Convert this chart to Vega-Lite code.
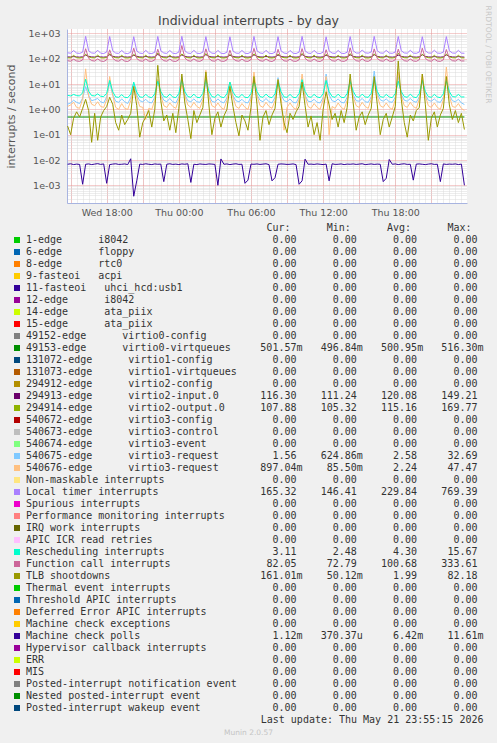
{
"$schema": "https://vega.github.io/schema/vega-lite/v6.json",
"width": 400, "height": 174,
"autosize": {"type": "none"},
"padding": {"left": 67, "top": 29, "right": 30, "bottom": 540},
"background": "#f0f0f0",
"title": {"text": "Individual interrupts - by day", "anchor": "middle", "dx": -18.5, "dy": 24, "offset": 2, "fontSize": 12.5, "font": "DejaVu Sans", "fontWeight": "normal", "color": "#444"},
"config": {"view": {"fill": "#ffffff", "stroke": null}, "axis": {"labelFont": "DejaVu Sans", "titleFont": "DejaVu Sans"}},
"datasets": {
"v0": [
{"t":"2026-05-20T14:45","k":"V","v":0.5},
{"t":"2026-05-21T08:00","k":"V","v":0.502},
{"t":"2026-05-21T23:45","k":"V","v":0.5016}
],
"d": [
{"t":"2026-05-20T14:45","L":172,"F":84,"R":3.6,"B":1.6,"O":1.3,"T":0.22,"M":0.0068,"I":118,"P":109},
{"t":"2026-05-20T15:00","L":166,"F":80,"R":3.4,"B":1.8,"O":1.5,"T":0.1,"M":0.0071,"I":117,"P":108},
{"t":"2026-05-20T15:15","L":212,"F":96,"R":3.9,"B":2.3,"O":1.9,"T":0.45,"M":0.0066,"I":122,"P":136},
{"t":"2026-05-20T15:30","L":168,"F":82,"R":3.5,"B":1.9,"O":1.2,"T":0.8,"M":0.0069,"I":118,"P":110},
{"t":"2026-05-20T15:45","L":163,"F":79,"R":3.4,"B":1.7,"O":1.1,"T":0.5,"M":0.0067,"I":116,"P":107},
{"t":"2026-05-20T16:00","L":182,"F":90,"R":4.5,"B":2.8,"O":2.6,"T":1.1,"M":0.0011,"I":119,"P":112},
{"t":"2026-05-20T16:15","L":770,"F":250,"R":15.5,"B":8,"O":40,"T":2.5,"M":0.0068,"I":140,"P":150},
{"t":"2026-05-20T16:30","L":205,"F":104,"R":5.2,"B":3.5,"O":3.2,"T":0.9,"M":0.007,"I":124,"P":120},
{"t":"2026-05-20T16:45","L":170,"F":85,"R":3.5,"B":2.2,"O":1.6,"T":0.05,"M":0.0066,"I":118,"P":110},
{"t":"2026-05-20T17:00","L":165,"F":81,"R":3.4,"B":2.4,"O":1.4,"T":0.7,"M":0.0069,"I":117,"P":108},
{"t":"2026-05-20T17:15","L":218,"F":99,"R":4.1,"B":2.7,"O":2.0,"T":0.06,"M":0.0072,"I":123,"P":139},
{"t":"2026-05-20T17:30","L":166,"F":82,"R":3.3,"B":2.0,"O":1.3,"T":0.5,"M":0.0067,"I":118,"P":109},
{"t":"2026-05-20T17:45","L":161,"F":78,"R":3.2,"B":1.8,"O":1.2,"T":0.9,"M":0.007,"I":116,"P":107},
{"t":"2026-05-20T18:00","L":184,"F":91,"R":4.3,"B":3.1,"O":2.4,"T":1.3,"M":0.0012,"I":119,"P":113},
{"t":"2026-05-20T18:15","L":755,"F":225,"R":14,"B":12,"O":20,"T":3,"M":0.0066,"I":145,"P":158},
{"t":"2026-05-20T18:30","L":208,"F":106,"R":5,"B":3.8,"O":3.6,"T":1.6,"M":0.0069,"I":125,"P":121},
{"t":"2026-05-20T18:45","L":168,"F":84,"R":3.1,"B":2.1,"O":1.2,"T":0.3,"M":0.0071,"I":118,"P":110},
{"t":"2026-05-20T19:00","L":163,"F":80,"R":3.0,"B":1.9,"O":1.0,"T":0.15,"M":0.0067,"I":117,"P":108},
{"t":"2026-05-20T19:15","L":214,"F":97,"R":3.8,"B":2.6,"O":1.7,"T":0.6,"M":0.0068,"I":122,"P":137},
{"t":"2026-05-20T19:30","L":166,"F":81,"R":3.0,"B":2.0,"O":1.1,"T":0.25,"M":0.007,"I":118,"P":109},
{"t":"2026-05-20T19:45","L":160,"F":78,"R":2.9,"B":1.7,"O":1.0,"T":0.4,"M":0.0066,"I":116,"P":107},
{"t":"2026-05-20T20:00","L":181,"F":92,"R":4.0,"B":2.9,"O":2.2,"T":0.7,"M":0.0112,"I":119,"P":112},
{"t":"2026-05-20T20:15","L":745,"F":262,"R":12,"B":10,"O":8,"T":8,"M":0.00037,"I":138,"P":148},
{"t":"2026-05-20T20:30","L":204,"F":103,"R":4.8,"B":3.6,"O":3,"T":1.4,"M":0.0015,"I":124,"P":120},
{"t":"2026-05-20T20:45","L":167,"F":83,"R":3.1,"B":2.2,"O":1.3,"T":0.08,"M":0.0069,"I":118,"P":110},
{"t":"2026-05-20T21:00","L":162,"F":80,"R":3.0,"B":2.0,"O":1.2,"T":0.3,"M":0.0067,"I":117,"P":108},
{"t":"2026-05-20T21:15","L":216,"F":98,"R":3.9,"B":2.5,"O":0.4,"T":0.5,"M":0.0071,"I":123,"P":138},
{"t":"2026-05-20T21:30","L":165,"F":81,"R":3.1,"B":1.9,"O":1.1,"T":0.9,"M":0.0068,"I":118,"P":109},
{"t":"2026-05-20T21:45","L":161,"F":79,"R":2.9,"B":1.8,"O":1.0,"T":0.2,"M":0.0066,"I":116,"P":107},
{"t":"2026-05-20T22:00","L":180,"F":90,"R":4.1,"B":3.0,"O":2.3,"T":1.0,"M":0.007,"I":119,"P":112},
{"t":"2026-05-20T22:15","L":760,"F":238,"R":13,"B":15,"O":15,"T":55,"M":0.0068,"I":149,"P":170},
{"t":"2026-05-20T22:30","L":206,"F":105,"R":5.1,"B":4,"O":3.5,"T":2.2,"M":0.0069,"I":125,"P":122},
{"t":"2026-05-20T22:45","L":169,"F":84,"R":3.2,"B":2.3,"O":1.4,"T":0.35,"M":0.0014,"I":118,"P":110},
{"t":"2026-05-20T23:00","L":163,"F":80,"R":3.0,"B":2.0,"O":1.2,"T":0.6,"M":0.0068,"I":117,"P":108},
{"t":"2026-05-20T23:15","L":213,"F":97,"R":4.0,"B":2.7,"O":1.8,"T":0.15,"M":0.0071,"I":122,"P":139},
{"t":"2026-05-20T23:30","L":166,"F":81,"R":3.1,"B":2.0,"O":1.3,"T":0.7,"M":0.0067,"I":118,"P":109},
{"t":"2026-05-20T23:45","L":160,"F":78,"R":2.9,"B":1.8,"O":1.1,"T":0.12,"M":0.0069,"I":116,"P":107},
{"t":"2026-05-21T00:00","L":183,"F":92,"R":4.2,"B":3.1,"O":2.5,"T":1.1,"M":0.0066,"I":119,"P":112},
{"t":"2026-05-21T00:15","L":769,"F":334,"R":14.5,"B":20,"O":10,"T":25,"M":0.007,"I":142,"P":155},
{"t":"2026-05-21T00:30","L":207,"F":108,"R":5,"B":3.9,"O":3.4,"T":1.8,"M":0.0068,"I":124,"P":121},
{"t":"2026-05-21T00:45","L":168,"F":85,"R":3.2,"B":2.2,"O":1.5,"T":0.4,"M":0.0071,"I":118,"P":110},
{"t":"2026-05-21T01:00","L":162,"F":80,"R":3.0,"B":2.0,"O":1.2,"T":0.07,"M":0.0013,"I":117,"P":108},
{"t":"2026-05-21T01:15","L":217,"F":99,"R":4.0,"B":2.6,"O":1.9,"T":0.9,"M":0.0068,"I":123,"P":137},
{"t":"2026-05-21T01:30","L":165,"F":82,"R":3.0,"B":2.0,"O":1.3,"T":0.3,"M":0.0066,"I":118,"P":109},
{"t":"2026-05-21T01:45","L":161,"F":79,"R":2.9,"B":1.9,"O":1.1,"T":0.6,"M":0.007,"I":116,"P":107},
{"t":"2026-05-21T02:00","L":182,"F":91,"R":4.3,"B":3.0,"O":2.4,"T":1.2,"M":0.0068,"I":119,"P":112},
{"t":"2026-05-21T02:15","L":750,"F":248,"R":15.7,"B":12,"O":35,"T":30,"M":0.0067,"I":146,"P":160},
{"t":"2026-05-21T02:30","L":205,"F":104,"R":5.2,"B":3.7,"O":3.3,"T":1.5,"M":0.007,"I":124,"P":120},
{"t":"2026-05-21T02:45","L":167,"F":83,"R":3.2,"B":2.1,"O":1.4,"T":0.1,"M":0.0069,"I":118,"P":110},
{"t":"2026-05-21T03:00","L":163,"F":80,"R":3.0,"B":1.9,"O":1.2,"T":0.45,"M":0.0067,"I":117,"P":108},
{"t":"2026-05-21T03:15","L":215,"F":98,"R":3.9,"B":2.6,"O":1.8,"T":0.8,"M":0.001,"I":122,"P":138},
{"t":"2026-05-21T03:30","L":166,"F":81,"R":3.1,"B":2.0,"O":1.2,"T":0.2,"M":0.011,"I":118,"P":109},
{"t":"2026-05-21T03:45","L":160,"F":79,"R":2.9,"B":1.8,"O":1.0,"T":0.55,"M":0.0068,"I":116,"P":107},
{"t":"2026-05-21T04:00","L":181,"F":90,"R":4.1,"B":2.9,"O":2.3,"T":1.0,"M":0.007,"I":119,"P":112},
{"t":"2026-05-21T04:15","L":740,"F":218,"R":12,"B":10,"O":12,"T":8,"M":0.0066,"I":139,"P":147},
{"t":"2026-05-21T04:30","L":203,"F":102,"R":4.9,"B":3.5,"O":3.1,"T":1.3,"M":0.0069,"I":123,"P":119},
{"t":"2026-05-21T04:45","L":168,"F":84,"R":3.2,"B":2.2,"O":1.3,"T":0.3,"M":0.0071,"I":118,"P":110},
{"t":"2026-05-21T05:00","L":164,"F":80,"R":3.0,"B":2.0,"O":1.1,"T":0.09,"M":0.0067,"I":117,"P":108},
{"t":"2026-05-21T05:15","L":214,"F":97,"R":3.9,"B":2.5,"O":1.7,"T":0.6,"M":0.0068,"I":122,"P":137},
{"t":"2026-05-21T05:30","L":165,"F":81,"R":3.0,"B":1.9,"O":1.2,"T":0.35,"M":0.0012,"I":118,"P":109},
{"t":"2026-05-21T05:45","L":161,"F":79,"R":2.9,"B":1.8,"O":1.0,"T":0.15,"M":0.0016,"I":116,"P":107},
{"t":"2026-05-21T06:00","L":184,"F":92,"R":4.2,"B":3.1,"O":2.6,"T":1.2,"M":0.0069,"I":119,"P":113},
{"t":"2026-05-21T06:15","L":762,"F":258,"R":14,"B":15,"O":30,"T":20,"M":0.0068,"I":144,"P":156},
{"t":"2026-05-21T06:30","L":207,"F":105,"R":5.1,"B":3.8,"O":3.5,"T":1.6,"M":0.007,"I":124,"P":121},
{"t":"2026-05-21T06:45","L":169,"F":84,"R":3.2,"B":2.3,"O":1.4,"T":0.06,"M":0.0067,"I":118,"P":110},
{"t":"2026-05-21T07:00","L":163,"F":80,"R":3.0,"B":2.0,"O":1.2,"T":0.5,"M":0.0069,"I":117,"P":108},
{"t":"2026-05-21T07:15","L":216,"F":98,"R":4.0,"B":2.7,"O":1.9,"T":0.9,"M":0.0071,"I":123,"P":139},
{"t":"2026-05-21T07:30","L":165,"F":82,"R":3.1,"B":2.0,"O":1.3,"T":0.25,"M":0.0066,"I":118,"P":109},
{"t":"2026-05-21T07:45","L":160,"F":78,"R":2.9,"B":1.8,"O":1.1,"T":0.6,"M":0.0015,"I":116,"P":107},
{"t":"2026-05-21T08:00","L":180,"F":90,"R":4.1,"B":3.0,"O":2.2,"T":1.1,"M":0.002,"I":119,"P":112},
{"t":"2026-05-21T08:15","L":748,"F":236,"R":13,"B":18,"O":15,"T":15,"M":0.0068,"I":141,"P":152},
{"t":"2026-05-21T08:30","L":205,"F":104,"R":5,"B":3.9,"O":3.3,"T":1.7,"M":0.007,"I":124,"P":120},
{"t":"2026-05-21T08:45","L":168,"F":83,"R":3.1,"B":2.2,"O":0.15,"T":0.3,"M":0.0069,"I":118,"P":110},
{"t":"2026-05-21T09:00","L":162,"F":80,"R":3.0,"B":2.0,"O":1.2,"T":0.12,"M":0.0067,"I":117,"P":108},
{"t":"2026-05-21T09:15","L":213,"F":97,"R":3.9,"B":2.6,"O":1.8,"T":0.7,"M":0.0068,"I":122,"P":137},
{"t":"2026-05-21T09:30","L":166,"F":81,"R":3.0,"B":1.9,"O":1.2,"T":0.4,"M":0.007,"I":118,"P":109},
{"t":"2026-05-21T09:45","L":161,"F":79,"R":2.9,"B":1.8,"O":1.0,"T":0.8,"M":0.0066,"I":116,"P":107},
{"t":"2026-05-21T10:00","L":183,"F":91,"R":4.2,"B":3.0,"O":2.5,"T":1.3,"M":0.0011,"I":119,"P":112},
{"t":"2026-05-21T10:15","L":766,"F":252,"R":15,"B":12,"O":25,"T":12,"M":0.0015,"I":147,"P":162},
{"t":"2026-05-21T10:30","L":206,"F":105,"R":5.1,"B":3.6,"O":3.4,"T":1.4,"M":0.0108,"I":124,"P":121},
{"t":"2026-05-21T10:45","L":167,"F":83,"R":3.2,"B":2.1,"O":1.3,"T":0.2,"M":0.0068,"I":118,"P":110},
{"t":"2026-05-21T11:00","L":163,"F":80,"R":3.0,"B":2.0,"O":1.1,"T":0.55,"M":0.0069,"I":117,"P":108},
{"t":"2026-05-21T11:15","L":215,"F":98,"R":3.9,"B":2.5,"O":1.7,"T":0.1,"M":0.0067,"I":122,"P":138},
{"t":"2026-05-21T11:30","L":165,"F":81,"R":3.1,"B":1.9,"O":1.2,"T":0.3,"M":0.007,"I":118,"P":109},
{"t":"2026-05-21T11:45","L":160,"F":78,"R":2.9,"B":1.8,"O":1.0,"T":0.06,"M":0.0068,"I":116,"P":107},
{"t":"2026-05-21T12:00","L":182,"F":91,"R":4.1,"B":2.9,"O":2.4,"T":1.0,"M":0.0066,"I":119,"P":112},
{"t":"2026-05-21T12:15","L":738,"F":228,"R":14,"B":25,"O":20,"T":5,"M":0.0069,"I":138,"P":149},
{"t":"2026-05-21T12:30","L":204,"F":103,"R":5.0,"B":3.7,"O":0.1,"T":1.5,"M":0.0015,"I":123,"P":120},
{"t":"2026-05-21T12:45","L":168,"F":84,"R":3.2,"B":2.2,"O":1.3,"T":0.4,"M":0.0071,"I":118,"P":110},
{"t":"2026-05-21T13:00","L":163,"F":80,"R":3.0,"B":2.0,"O":1.1,"T":0.7,"M":0.0067,"I":117,"P":108},
{"t":"2026-05-21T13:15","L":214,"F":97,"R":4.0,"B":2.6,"O":1.8,"T":0.2,"M":0.0068,"I":122,"P":137},
{"t":"2026-05-21T13:30","L":166,"F":81,"R":3.0,"B":1.9,"O":1.2,"T":0.9,"M":0.007,"I":118,"P":109},
{"t":"2026-05-21T13:45","L":161,"F":79,"R":2.9,"B":1.8,"O":1.0,"T":0.3,"M":0.0066,"I":116,"P":107},
{"t":"2026-05-21T14:00","L":181,"F":90,"R":4.2,"B":3.0,"O":2.3,"T":1.2,"M":0.0069,"I":119,"P":112},
{"t":"2026-05-21T14:15","L":752,"F":270,"R":12.5,"B":15,"O":10,"T":25,"M":0.0068,"I":143,"P":157},
{"t":"2026-05-21T14:30","L":207,"F":106,"R":5.2,"B":3.8,"O":3.2,"T":1.8,"M":0.007,"I":124,"P":121},
{"t":"2026-05-21T14:45","L":169,"F":84,"R":3.2,"B":2.2,"O":1.4,"T":0.15,"M":0.0067,"I":118,"P":110},
{"t":"2026-05-21T15:00","L":168,"F":80,"R":3.0,"B":2.1,"O":1.2,"T":0.5,"M":0.0069,"I":117,"P":108},
{"t":"2026-05-21T15:15","L":222,"F":99,"R":4.0,"B":2.7,"O":1.9,"T":0.8,"M":0.0071,"I":123,"P":139},
{"t":"2026-05-21T15:30","L":172,"F":82,"R":3.1,"B":2.0,"O":1.3,"T":0.25,"M":0.0066,"I":118,"P":109},
{"t":"2026-05-21T15:45","L":166,"F":79,"R":3.0,"B":1.9,"O":1.1,"T":0.6,"M":0.0068,"I":116,"P":107},
{"t":"2026-05-21T16:00","L":185,"F":92,"R":4.3,"B":3.1,"O":2.5,"T":1.1,"M":0.007,"I":119,"P":113},
{"t":"2026-05-21T16:15","L":764,"F":246,"R":15,"B":32.7,"O":15,"T":20,"M":0.0067,"I":145,"P":154},
{"t":"2026-05-21T16:30","L":208,"F":104,"R":5.1,"B":4.2,"O":3.4,"T":1.6,"M":0.0069,"I":124,"P":121},
{"t":"2026-05-21T16:45","L":170,"F":84,"R":3.2,"B":2.4,"O":1.4,"T":0.1,"M":0.0068,"I":118,"P":110},
{"t":"2026-05-21T17:00","L":166,"F":80,"R":3.0,"B":2.1,"O":1.2,"T":0.4,"M":0.0014,"I":117,"P":108},
{"t":"2026-05-21T17:15","L":216,"F":98,"R":3.9,"B":2.6,"O":1.8,"T":0.7,"M":0.0019,"I":122,"P":138},
{"t":"2026-05-21T17:30","L":168,"F":81,"R":3.1,"B":2.0,"O":1.2,"T":0.2,"M":0.0105,"I":118,"P":109},
{"t":"2026-05-21T17:45","L":164,"F":79,"R":2.9,"B":1.9,"O":1.0,"T":0.5,"M":0.0068,"I":116,"P":107},
{"t":"2026-05-21T18:00","L":184,"F":91,"R":4.2,"B":3.0,"O":2.4,"T":1.3,"M":0.007,"I":119,"P":112},
{"t":"2026-05-21T18:15","L":758,"F":240,"R":13,"B":20,"O":30,"T":82,"M":0.0066,"I":140,"P":165},
{"t":"2026-05-21T18:30","L":207,"F":105,"R":5.0,"B":3.9,"O":3.3,"T":2.5,"M":0.0069,"I":124,"P":122},
{"t":"2026-05-21T18:45","L":170,"F":84,"R":3.2,"B":2.3,"O":1.4,"T":0.3,"M":0.0071,"I":118,"P":110},
{"t":"2026-05-21T19:00","L":166,"F":80,"R":3.0,"B":2.1,"O":1.2,"T":0.08,"M":0.0067,"I":117,"P":108},
{"t":"2026-05-21T19:15","L":217,"F":98,"R":4.0,"B":2.7,"O":1.9,"T":0.6,"M":0.0068,"I":123,"P":138},
{"t":"2026-05-21T19:30","L":168,"F":82,"R":3.1,"B":2.1,"O":1.3,"T":0.35,"M":0.0016,"I":118,"P":109},
{"t":"2026-05-21T19:45","L":164,"F":79,"R":2.9,"B":1.9,"O":1.1,"T":0.9,"M":0.0069,"I":116,"P":107},
{"t":"2026-05-21T20:00","L":185,"F":92,"R":4.2,"B":3.1,"O":2.6,"T":1.2,"M":0.007,"I":119,"P":113},
{"t":"2026-05-21T20:15","L":744,"F":262,"R":14,"B":15,"O":25,"T":25,"M":0.0068,"I":144,"P":151},
{"t":"2026-05-21T20:30","L":206,"F":105,"R":5.1,"B":3.8,"O":3.5,"T":1.6,"M":0.0066,"I":124,"P":121},
{"t":"2026-05-21T20:45","L":170,"F":84,"R":3.2,"B":2.3,"O":1.4,"T":0.06,"M":0.0069,"I":118,"P":110},
{"t":"2026-05-21T21:00","L":167,"F":80,"R":3.0,"B":2.1,"O":1.2,"T":0.45,"M":0.0071,"I":117,"P":108},
{"t":"2026-05-21T21:15","L":218,"F":98,"R":3.9,"B":2.6,"O":1.8,"T":0.8,"M":0.0067,"I":122,"P":137},
{"t":"2026-05-21T21:30","L":168,"F":81,"R":3.1,"B":2.0,"O":1.2,"T":0.2,"M":0.0068,"I":118,"P":109},
{"t":"2026-05-21T21:45","L":164,"F":79,"R":2.9,"B":1.9,"O":1.0,"T":0.6,"M":0.0014,"I":116,"P":107},
{"t":"2026-05-21T22:00","L":183,"F":91,"R":4.1,"B":3.0,"O":2.4,"T":1.1,"M":0.007,"I":119,"P":112},
{"t":"2026-05-21T22:15","L":750,"F":232,"R":13,"B":18,"O":47,"T":20,"M":0.0067,"I":142,"P":153},
{"t":"2026-05-21T22:30","L":206,"F":104,"R":5.0,"B":3.7,"O":3.3,"T":1.5,"M":0.0069,"I":124,"P":120},
{"t":"2026-05-21T22:45","L":169,"F":84,"R":3.2,"B":2.2,"O":1.3,"T":0.4,"M":0.0068,"I":118,"P":110},
{"t":"2026-05-21T23:00","L":166,"F":81,"R":3.1,"B":2.0,"O":1.2,"T":0.9,"M":0.007,"I":117,"P":108},
{"t":"2026-05-21T23:15","L":216,"F":97,"R":3.9,"B":2.5,"O":1.7,"T":0.3,"M":0.0066,"I":122,"P":137},
{"t":"2026-05-21T23:30","L":167,"F":82,"R":3.1,"B":1.8,"O":1.1,"T":0.7,"M":0.0069,"I":118,"P":109},
{"t":"2026-05-21T23:45","L":165,"F":82,"R":3.1,"B":1.56,"O":0.9,"T":0.16,"M":0.001,"I":116,"P":108}
],
"leg": [
{"k":"hdr","n":"","c":"Cur:\u00a0\u00a0\u200b","m":"Min:\u00a0\u00a0\u200b","a":"Avg:\u00a0\u00a0\u200b","x":"Max:\u00a0\u00a0\u200b"},
{"k":"e1","n":"1-edge\u00a0\u00a0\u00a0\u00a0\u00a0\u00a0i8042","c":"0.00\u00a0\u200b","m":"0.00\u00a0\u200b","a":"0.00\u00a0\u200b","x":"0.00\u00a0\u200b"},
{"k":"e6","n":"6-edge\u00a0\u00a0\u00a0\u00a0\u00a0\u00a0floppy","c":"0.00\u00a0\u200b","m":"0.00\u00a0\u200b","a":"0.00\u00a0\u200b","x":"0.00\u00a0\u200b"},
{"k":"e8","n":"8-edge\u00a0\u00a0\u00a0\u00a0\u00a0\u00a0rtc0","c":"0.00\u00a0\u200b","m":"0.00\u00a0\u200b","a":"0.00\u00a0\u200b","x":"0.00\u00a0\u200b"},
{"k":"e9","n":"9-fasteoi\u00a0\u00a0\u00a0acpi","c":"0.00\u00a0\u200b","m":"0.00\u00a0\u200b","a":"0.00\u00a0\u200b","x":"0.00\u00a0\u200b"},
{"k":"e11","n":"11-fasteoi\u00a0\u00a0\u00a0uhci_hcd:usb1","c":"0.00\u00a0\u200b","m":"0.00\u00a0\u200b","a":"0.00\u00a0\u200b","x":"0.00\u00a0\u200b"},
{"k":"e12","n":"12-edge\u00a0\u00a0\u00a0\u00a0\u00a0\u00a0i8042","c":"0.00\u00a0\u200b","m":"0.00\u00a0\u200b","a":"0.00\u00a0\u200b","x":"0.00\u00a0\u200b"},
{"k":"e14","n":"14-edge\u00a0\u00a0\u00a0\u00a0\u00a0\u00a0ata_piix","c":"0.00\u00a0\u200b","m":"0.00\u00a0\u200b","a":"0.00\u00a0\u200b","x":"0.00\u00a0\u200b"},
{"k":"e15","n":"15-edge\u00a0\u00a0\u00a0\u00a0\u00a0\u00a0ata_piix","c":"0.00\u00a0\u200b","m":"0.00\u00a0\u200b","a":"0.00\u00a0\u200b","x":"0.00\u00a0\u200b"},
{"k":"c0","n":"49152-edge\u00a0\u00a0\u00a0\u00a0\u00a0\u00a0virtio0-config","c":"0.00\u00a0\u200b","m":"0.00\u00a0\u200b","a":"0.00\u00a0\u200b","x":"0.00\u00a0\u200b"},
{"k":"V","n":"49153-edge\u00a0\u00a0\u00a0\u00a0\u00a0\u00a0virtio0-virtqueues","c":"501.57m","m":"496.84m","a":"500.95m","x":"516.30m"},
{"k":"c1","n":"131072-edge\u00a0\u00a0\u00a0\u00a0\u00a0\u00a0virtio1-config","c":"0.00\u00a0\u200b","m":"0.00\u00a0\u200b","a":"0.00\u00a0\u200b","x":"0.00\u00a0\u200b"},
{"k":"q1","n":"131073-edge\u00a0\u00a0\u00a0\u00a0\u00a0\u00a0virtio1-virtqueues","c":"0.00\u00a0\u200b","m":"0.00\u00a0\u200b","a":"0.00\u00a0\u200b","x":"0.00\u00a0\u200b"},
{"k":"c2","n":"294912-edge\u00a0\u00a0\u00a0\u00a0\u00a0\u00a0virtio2-config","c":"0.00\u00a0\u200b","m":"0.00\u00a0\u200b","a":"0.00\u00a0\u200b","x":"0.00\u00a0\u200b"},
{"k":"I","n":"294913-edge\u00a0\u00a0\u00a0\u00a0\u00a0\u00a0virtio2-input.0","c":"116.30\u00a0\u200b","m":"111.24\u00a0\u200b","a":"120.08\u00a0\u200b","x":"149.21\u00a0\u200b"},
{"k":"P","n":"294914-edge\u00a0\u00a0\u00a0\u00a0\u00a0\u00a0virtio2-output.0","c":"107.88\u00a0\u200b","m":"105.32\u00a0\u200b","a":"115.16\u00a0\u200b","x":"169.77\u00a0\u200b"},
{"k":"c3","n":"540672-edge\u00a0\u00a0\u00a0\u00a0\u00a0\u00a0virtio3-config","c":"0.00\u00a0\u200b","m":"0.00\u00a0\u200b","a":"0.00\u00a0\u200b","x":"0.00\u00a0\u200b"},
{"k":"k3","n":"540673-edge\u00a0\u00a0\u00a0\u00a0\u00a0\u00a0virtio3-control","c":"0.00\u00a0\u200b","m":"0.00\u00a0\u200b","a":"0.00\u00a0\u200b","x":"0.00\u00a0\u200b"},
{"k":"v3","n":"540674-edge\u00a0\u00a0\u00a0\u00a0\u00a0\u00a0virtio3-event","c":"0.00\u00a0\u200b","m":"0.00\u00a0\u200b","a":"0.00\u00a0\u200b","x":"0.00\u00a0\u200b"},
{"k":"B","n":"540675-edge\u00a0\u00a0\u00a0\u00a0\u00a0\u00a0virtio3-request","c":"1.56\u00a0\u200b","m":"624.86m","a":"2.58\u00a0\u200b","x":"32.69\u00a0\u200b"},
{"k":"O","n":"540676-edge\u00a0\u00a0\u00a0\u00a0\u00a0\u00a0virtio3-request","c":"897.04m","m":"85.50m","a":"2.24\u00a0\u200b","x":"47.47\u00a0\u200b"},
{"k":"NMI","n":"Non-maskable interrupts","c":"0.00\u00a0\u200b","m":"0.00\u00a0\u200b","a":"0.00\u00a0\u200b","x":"0.00\u00a0\u200b"},
{"k":"L","n":"Local timer interrupts","c":"165.32\u00a0\u200b","m":"146.41\u00a0\u200b","a":"229.84\u00a0\u200b","x":"769.39\u00a0\u200b"},
{"k":"SPU","n":"Spurious interrupts","c":"0.00\u00a0\u200b","m":"0.00\u00a0\u200b","a":"0.00\u00a0\u200b","x":"0.00\u00a0\u200b"},
{"k":"PMI","n":"Performance monitoring interrupts","c":"0.00\u00a0\u200b","m":"0.00\u00a0\u200b","a":"0.00\u00a0\u200b","x":"0.00\u00a0\u200b"},
{"k":"IWI","n":"IRQ work interrupts","c":"0.00\u00a0\u200b","m":"0.00\u00a0\u200b","a":"0.00\u00a0\u200b","x":"0.00\u00a0\u200b"},
{"k":"RTR","n":"APIC ICR read retries","c":"0.00\u00a0\u200b","m":"0.00\u00a0\u200b","a":"0.00\u00a0\u200b","x":"0.00\u00a0\u200b"},
{"k":"R","n":"Rescheduling interrupts","c":"3.11\u00a0\u200b","m":"2.48\u00a0\u200b","a":"4.30\u00a0\u200b","x":"15.67\u00a0\u200b"},
{"k":"F","n":"Function call interrupts","c":"82.05\u00a0\u200b","m":"72.79\u00a0\u200b","a":"100.68\u00a0\u200b","x":"333.61\u00a0\u200b"},
{"k":"T","n":"TLB shootdowns","c":"161.01m","m":"50.12m","a":"1.99\u00a0\u200b","x":"82.18\u00a0\u200b"},
{"k":"THR","n":"Thermal event interrupts","c":"0.00\u00a0\u200b","m":"0.00\u00a0\u200b","a":"0.00\u00a0\u200b","x":"0.00\u00a0\u200b"},
{"k":"TRM","n":"Threshold APIC interrupts","c":"0.00\u00a0\u200b","m":"0.00\u00a0\u200b","a":"0.00\u00a0\u200b","x":"0.00\u00a0\u200b"},
{"k":"DFR","n":"Deferred Error APIC interrupts","c":"0.00\u00a0\u200b","m":"0.00\u00a0\u200b","a":"0.00\u00a0\u200b","x":"0.00\u00a0\u200b"},
{"k":"MCE","n":"Machine check exceptions","c":"0.00\u00a0\u200b","m":"0.00\u00a0\u200b","a":"0.00\u00a0\u200b","x":"0.00\u00a0\u200b"},
{"k":"M","n":"Machine check polls","c":"1.12m","m":"370.37u","a":"6.42m","x":"11.61m"},
{"k":"HYP","n":"Hypervisor callback interrupts","c":"0.00\u00a0\u200b","m":"0.00\u00a0\u200b","a":"0.00\u00a0\u200b","x":"0.00\u00a0\u200b"},
{"k":"ERR","n":"ERR","c":"0.00\u00a0\u200b","m":"0.00\u00a0\u200b","a":"0.00\u00a0\u200b","x":"0.00\u00a0\u200b"},
{"k":"MIS","n":"MIS","c":"0.00\u00a0\u200b","m":"0.00\u00a0\u200b","a":"0.00\u00a0\u200b","x":"0.00\u00a0\u200b"},
{"k":"PIN","n":"Posted-interrupt notification event","c":"0.00\u00a0\u200b","m":"0.00\u00a0\u200b","a":"0.00\u00a0\u200b","x":"0.00\u00a0\u200b"},
{"k":"NPI","n":"Nested posted-interrupt event","c":"0.00\u00a0\u200b","m":"0.00\u00a0\u200b","a":"0.00\u00a0\u200b","x":"0.00\u00a0\u200b"},
{"k":"PIW","n":"Posted-interrupt wakeup event","c":"0.00\u00a0\u200b","m":"0.00\u00a0\u200b","a":"0.00\u00a0\u200b","x":"0.00\u00a0\u200b"},
{"k":"upd","n":"","c":"","m":"","a":"","x":"Last update: Thu May 21 23:55:15 2026"}
]
},
"layer": [
{
"layer": [
{
"data": {"name": "v0"},
"mark": {"type": "line", "strokeWidth": 1},
"encoding": {
"x": {"field": "t", "type": "temporal", "scale": {"domain": ["2026-05-20T14:42", "2026-05-21T23:58"], "nice": false},
"axis": {"orient": "bottom", "grid": true, "gridColor": "#dadada", "gridDash": [1, 1], "tickCount": 66, "labels": false, "ticks": false, "domain": false, "title": null}},
"y": {"field": "v", "type": "quantitative", "scale": {"type": "log", "domain": [0.0002, 1500], "nice": false},
"axis": {"orient": "left", "grid": true, "gridColor": "#dadada", "gridDash": [1, 1], "values": [0.0002,0.0003,0.0004,0.0005,0.0006,0.0007,0.0008,0.0009,0.002,0.003,0.004,0.005,0.006,0.007,0.008,0.009,0.02,0.03,0.04,0.05,0.06,0.07,0.08,0.09,0.2,0.3,0.4,0.5,0.6,0.7,0.8,0.9,2,3,4,5,6,7,8,9,20,30,40,50,60,70,80,90,200,300,400,500,600,700,800,900], "labels": false, "ticks": false, "domain": false, "title": null}},
"color": {"field": "k", "type": "nominal", "legend": null,
"scale": {"domain": ["e1","e6","e8","e9","e11","e12","e14","e15","c0","V","c1","q1","c2","I","P","c3","k3","v3","B","O","NMI","L","SPU","PMI","IWI","RTR","R","F","T","THR","TRM","DFR","MCE","M","HYP","ERR","MIS","PIN","NPI","PIW"],
"range": ["#00cc00","#0066b3","#ff8000","#ffcc00","#330099","#990099","#ccff00","#ff0000","#808080","#008f00","#00487d","#b35a00","#b38f00","#6b006b","#8fb300","#b30000","#bebebe","#80ff80","#80c9ff","#ffc080","#ffe680","#aa80ff","#ee00cc","#ff8080","#666600","#ffbfff","#00ffcc","#cc6699","#999900","#00cc00","#0066b3","#ff8000","#ffcc00","#330099","#990099","#ccff00","#ff0000","#808080","#008f00","#00487d"]}}
}
},
{
"data": {"name": "d"},
"transform": [{"fold": ["I","P","B","O","L","R","F","T"], "as": ["k","v"]}],
"mark": {"type": "line", "strokeWidth": 1},
"encoding": {
"x": {"field": "t", "type": "temporal",
"axis": {"orient": "bottom", "grid": true, "gridColor": "#eb9a9a", "gridDash": [1, 1], "tickCount": 11, "labels": false, "ticks": false, "domain": false, "title": null}},
"y": {"field": "v", "type": "quantitative",
"axis": {"orient": "left", "grid": true, "gridColor": "#eb9a9a", "gridDash": [1, 1], "values": [0.001, 0.01, 0.1, 1, 10, 100, 1000], "format": ".0e", "labelExpr": "replace(replace(datum.label, 'e+', 'e+0'), 'e-', 'e-0')", "labelFontSize": 9.5, "labelColor": "#555555", "labelPadding": 7, "ticks": false, "domain": true, "domainColor": "#a8b4e0", "title": "interrupts / second", "titleFontSize": 11, "titleFontWeight": "normal", "titleColor": "#555555", "titlePadding": 12}},
"color": {"field": "k", "type": "nominal", "legend": null},
"detail": {"field": "k", "type": "nominal"}
}
},
{
"data": {"name": "d"},
"transform": [{"fold": ["M"], "as": ["k","v"]}],
"mark": {"type": "line", "strokeWidth": 1},
"encoding": {
"x": {"field": "t", "type": "temporal",
"axis": {"orient": "bottom", "grid": false, "tickCount": 5, "format": "%a %H:%M", "labelFlush": false, "labelFontSize": 9.5, "labelColor": "#555555", "labelPadding": 4, "ticks": false, "domain": true, "domainColor": "#a8b4e0", "title": null}},
"y": {"field": "v", "type": "quantitative", "axis": null},
"color": {"field": "k", "type": "nominal", "legend": null}
}
}
],
"resolve": {"axis": {"x": "independent", "y": "independent"}}
},
{
"data": {"name": "leg"},
"layer": [
{
"layer": [
{
"transform": [{"filter": "datum.k != 'hdr' && datum.k != 'upd'"}],
"mark": {"type": "square", "size": 36, "opacity": 1},
"encoding": {
"x": {"datum": "sw", "type": "nominal", "scale": {"type": "point", "domain": ["sw", "tx"], "range": [-50, -41], "padding": 0},
"axis": {"orient": "bottom", "labels": false, "ticks": false, "domain": false, "grid": false, "title": "Munin 2.0.57", "titleX": 181, "titleY": 529, "titleFont": "DejaVu Sans", "titleFontSize": 7.5, "titleFontWeight": "normal", "titleColor": "#c4c4c4", "titleAlign": "center", "titleBaseline": "middle"}},
"y": {"field": "k", "type": "nominal", "scale": {"type": "point", "domain": ["hdr","e1","e6","e8","e9","e11","e12","e14","e15","c0","V","c1","q1","c2","I","P","c3","k3","v3","B","O","NMI","L","SPU","PMI","IWI","RTR","R","F","T","THR","TRM","DFR","MCE","M","HYP","ERR","MIS","PIN","NPI","PIW","upd"], "range": [199, 691], "padding": 0},
"axis": {"orient": "right", "labels": false, "ticks": false, "domain": false, "grid": false, "title": "RRDTOOL / TOBI OETIKER", "titleAngle": 90, "titleX": 20, "titleY": 25, "titleFont": "DejaVu Sans", "titleFontSize": 7.6, "titleFontWeight": "normal", "titleColor": "#c8c8c8", "titleAlign": "center", "titleBaseline": "middle"}},
"color": {"field": "k", "type": "nominal", "legend": null}
}
},
{
"mark": {"type": "text", "align": "left", "baseline": "middle", "font": "DejaVu Sans Mono", "fontSize": 10, "color": "#333333"},
"encoding": {
"x": {"datum": "tx", "type": "nominal"},
"y": {"field": "k", "type": "nominal"},
"text": {"field": "n"}
}
}
]
},
{
"transform": [{"fold": ["c","m","a","x"], "as": ["col","val"]}],
"mark": {"type": "text", "align": "right", "baseline": "middle", "font": "DejaVu Sans Mono", "fontSize": 10, "color": "#333333"},
"encoding": {
"x": {"field": "col", "type": "nominal", "scale": {"type": "point", "domain": ["c","m","a","x"], "range": [235.5, 416.5], "padding": 0}, "axis": null},
"y": {"field": "k", "type": "nominal"},
"text": {"field": "val"}
}
}
],
"resolve": {"scale": {"x": "independent"}}
}
],
"resolve": {"scale": {"x": "independent", "y": "independent"}}
}
